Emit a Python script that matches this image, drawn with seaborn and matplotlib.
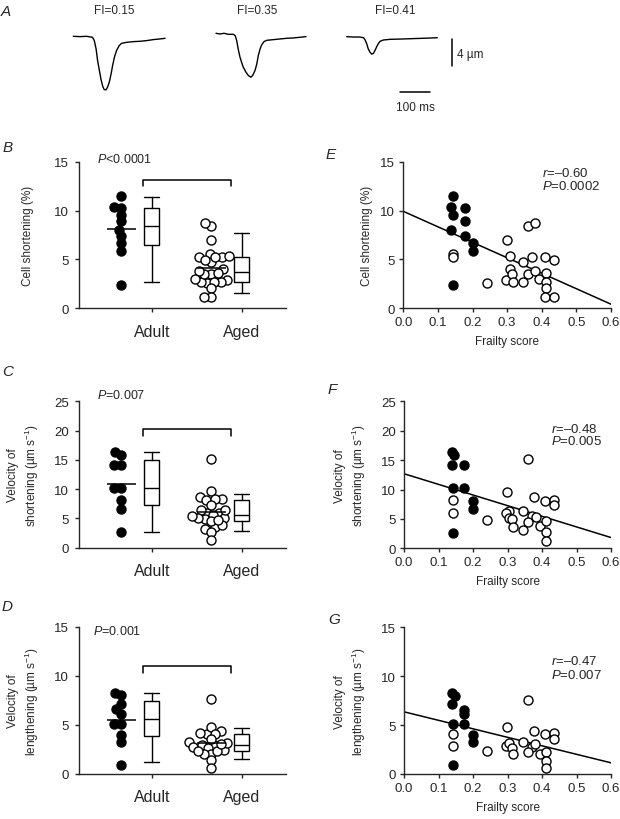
import numpy as np
import pandas as pd
import seaborn as sns
import matplotlib
matplotlib.use("Agg")
import matplotlib.pyplot as plt

### DATA ###

# A: example traces; time from trace start (ms), shortening (um)
t1 = [0, 22, 44, 64, 70, 76, 81, 87, 92, 98, 103, 109, 114, 120, 126, 131, 137, 144, 153, 161, 178, 200, 222, 244, 267, 289, 306]
d1 = [0, 0.05, 0, 0.15, 0.64, 1.88, 3.6, 5.08, 6.31, 7.4, 7.89, 7.94, 7.55, 6.8, 5.57, 4.34, 3.1, 2.12, 1.38, 1.04, 0.89, 0.79, 0.74, 0.64, 0.49, 0.39, 0.3]
t2 = [0, 13, 27, 41, 58, 64, 69, 74, 80, 86, 91, 100, 108, 116, 122, 130, 136, 141, 147, 152, 160, 169, 191, 213, 236, 258, 280, 300]
d2 = [0, 0.1, 0, 0.15, 0.15, 0.35, 1.08, 2.32, 3.55, 4.39, 5.03, 5.77, 6.26, 6.51, 6.26, 5.52, 4.54, 3.31, 2.32, 1.73, 1.23, 1.04, 0.94, 0.84, 0.74, 0.69, 0.59, 0.49]
t3 = [0, 22, 44, 56, 61, 67, 72, 78, 83, 89, 94, 100, 106, 111, 122, 144, 178, 211, 244, 278, 302]
d3 = [0, 0.05, 0.05, 0.15, 0.44, 1.08, 1.83, 2.32, 2.57, 2.47, 2.07, 1.48, 0.99, 0.69, 0.49, 0.39, 0.35, 0.3, 0.25, 0.2, 0.15]
fi_labels = ["FI=0.15", "FI=0.35", "FI=0.41"]

groups = ["Adult", "Aged"]

# B / E: cell shortening (%)
short_fi_adult = [0.145, 0.138, 0.178, 0.143, 0.178, 0.138, 0.178, 0.202, 0.202, 0.145]
short_adult = [11.52, 10.33, 10.27, 9.58, 8.9, 8.04, 7.43, 6.65, 5.9, 2.38]
short_fi_aged = [0.145, 0.145, 0.243, 0.299, 0.307, 0.307, 0.297, 0.314, 0.317, 0.347, 0.347, 0.361,
                 0.380, 0.371, 0.361, 0.380, 0.393, 0.410, 0.412, 0.412, 0.412, 0.410, 0.436, 0.436]
short_aged = [5.56, 5.22, 2.59, 7.02, 5.38, 4.02, 2.93, 3.51, 2.66, 4.71, 2.66, 8.39,
              8.73, 5.22, 3.51, 3.85, 3.0, 5.22, 3.61, 2.66, 2.05, 1.12, 4.98, 1.12]

# C / F: velocity of shortening (um/s)
vs_fi_adult = [0.138, 0.145, 0.138, 0.174, 0.141, 0.174, 0.199, 0.199, 0.141]
vs_adult = [16.3, 15.9, 14.2, 14.2, 10.2, 10.2, 8.1, 6.6, 2.6]
vs_fi_aged = [0.143, 0.143, 0.241, 0.298, 0.305, 0.296, 0.305, 0.312, 0.315, 0.346, 0.346, 0.360,
              0.378, 0.370, 0.360, 0.383, 0.394, 0.409, 0.412, 0.412, 0.412, 0.436, 0.436]
vs_aged = [8.27, 6.0, 4.87, 9.63, 6.4, 6.0, 5.1, 5.0, 3.57, 6.4, 3.17, 15.2,
           8.67, 5.55, 4.5, 5.4, 3.84, 8.1, 4.7, 2.72, 1.3, 8.27, 7.36]

# D / G: velocity of lengthening (um/s)
vl_fi_adult = [0.138, 0.148, 0.138, 0.174, 0.174, 0.141, 0.174, 0.199, 0.199, 0.141]
vl_adult = [8.28, 8.0, 7.16, 6.58, 6.13, 5.11, 5.11, 3.99, 3.24, 0.92]
vl_fi_aged = [0.143, 0.143, 0.241, 0.298, 0.296, 0.305, 0.312, 0.315, 0.346, 0.360, 0.378,
              0.370, 0.360, 0.380, 0.394, 0.409, 0.412, 0.412, 0.412, 0.436, 0.436]
vl_aged = [4.09, 2.9, 2.38, 4.77, 2.9, 3.17, 2.62, 2.04, 3.24, 7.6, 4.37,
           2.73, 2.28, 3.07, 2.04, 4.09, 2.28, 1.36, 0.58, 4.19, 3.58]

### STYLE ###
sns.set_style("ticks")
plt.rcParams["font.family"] = ["Liberation Sans", "DejaVu Sans"]
plt.rcParams["mathtext.fontset"] = "custom"
plt.rcParams["mathtext.rm"] = "Liberation Sans"
plt.rcParams["mathtext.it"] = "Liberation Sans:italic"
plt.rcParams["axes.linewidth"] = 1.0

DOT = 6.5          # marker diameter (pt)
SWARM_DOT = 3.6    # diameter used only for the swarm layout -> tighter, overlapping swarm

W, H = 620, 820
fig = plt.figure(figsize=(W / 100, H / 100), dpi=100)

def rect(left, top, right, bottom):
    return [left / W, 1 - bottom / H, (right - left) / W, (bottom - top) / H]

def ftxt(px, py, s, **kw):
    fig.text(px / W, 1 - py / H, s, **kw)

### A: traces ###
MS_PX = 100 / 30   # 100 ms bar is 30 px
UM_PX = 4 / 27     # 4 um bar is 27 px
axA = fig.add_axes([0, 1 - 120 / H, 1, 120 / H])
axA.set_xlim(0, W * MS_PX)
axA.set_ylim(-120 * UM_PX, 0)
axA.axis("off")
starts_px = [73.3, 216, 346.7]
base_px = [37.3, 34.3, 37.7]
for t, d, x0, b in zip([t1, t2, t3], [d1, d2, d3], starts_px, base_px):
    axA.plot(x0 * MS_PX + np.array(t), -b * UM_PX - np.array(d), color="black", lw=1.0)
for s, px in zip(fi_labels, [114, 257, 395]):
    ftxt(px, 11, s, fontsize=8.5, ha="center", va="center")
axA.plot([452 * MS_PX] * 2, [-40 * UM_PX, -40 * UM_PX - 4], color="black", lw=1.1)
axA.plot([400 * MS_PX, 400 * MS_PX + 100], [-93 * UM_PX] * 2, color="black", lw=1.1)
ftxt(457, 55, "4 µm", fontsize=8.5, ha="left", va="center")
ftxt(415, 108, "100 ms", fontsize=8.5, ha="center", va="center")

### B-D: group comparisons ###
SHIFT = 0.34
swarms = []

def gp_stats(v):
    q = np.percentile(v, [10, 25, 50, 75, 90], method="weibull")
    return dict(whislo=q[0], q1=q[1], med=q[2], q3=q[3], whishi=q[4], fliers=[])

def group_panel(ax, adult, aged, ymax, ylabel, ptxt, pxy, br_y, lab_x):
    df = pd.DataFrame({"value": adult + aged,
                       "group": [groups[0]] * len(adult) + [groups[1]] * len(aged)})
    df["pos"] = df["group"].map({groups[0]: -SHIFT, groups[1]: 1 - SHIFT})
    for g, face in zip(groups, ["black", "white"]):
        sub = df[df["group"] == g]
        n0 = len(ax.collections)
        sns.swarmplot(data=sub, x="pos", y="value", native_scale=True, orient="v",
                      color=face, edgecolor="black", linewidth=1, size=SWARM_DOT, ax=ax, zorder=3)
        swarms.extend(ax.collections[n0:])
        m = sub["value"].mean()
        p = sub["pos"].iloc[0]
        ax.hlines(m, p - 0.16, p + 0.16, color="black", lw=1.1, zorder=4)
    ax.bxp([gp_stats(adult), gp_stats(aged)], positions=[0, 1], widths=0.17, capwidths=0.17,
           patch_artist=True, showfliers=False, manage_ticks=False,
           boxprops=dict(facecolor="white", edgecolor="black", linewidth=1),
           whiskerprops=dict(color="black", linewidth=1),
           capprops=dict(color="black", linewidth=1),
           medianprops=dict(color="black", linewidth=1))
    ax.set_xlim(-0.808, 1.492)
    ax.set_ylim(0, ymax)
    ax.set_yticks(np.arange(0, ymax + 1, 5))
    ax.set_xticks([0, 1], groups)
    ax.set_xlabel("")
    ax.tick_params(axis="x", labelsize=11.5, length=3, width=1, pad=8)
    ax.tick_params(axis="y", labelsize=9.5, length=3, width=1, pad=4)
    ax.set_ylabel(ylabel, fontsize=8.5, va="center", linespacing=1.3)
    ax.yaxis.set_label_coords(lab_x, 0.5)
    ax.text(pxy[0], pxy[1], ptxt, fontsize=9, ha="left", va="center")
    x0, x1 = -0.1, 0.88
    ax.plot([x0, x0, x1, x1], [br_y[1], br_y[0], br_y[0], br_y[1]], color="black", lw=1.1)
    sns.despine(ax=ax)

### E-G: frailty correlations ###
def frailty_panel(ax, fa, va, fo, vo, ymax, ylabel, rtxt, ptxt, txy, lab_x):
    sns.scatterplot(x=fa, y=va, color="black", edgecolor="black", linewidth=1, s=DOT ** 2, ax=ax, zorder=3)
    sns.scatterplot(x=fo, y=vo, color="white", edgecolor="black", linewidth=1, s=DOT ** 2, ax=ax, zorder=3)
    ax.set_xlim(0, 0.6)
    sns.regplot(x=np.array(fa + fo), y=np.array(va + vo), scatter=False, ci=None, truncate=False,
                color="black", line_kws=dict(lw=1.1, zorder=2), ax=ax)
    ax.set_xlim(0, 0.6)
    ax.set_ylim(0, ymax)
    ticks = np.arange(0, 0.61, 0.1)
    ax.set_xticks(ticks, [f"{v:.1f}" for v in ticks])
    ax.set_yticks(np.arange(0, ymax + 1, 5))
    ax.tick_params(axis="x", labelsize=9.5, length=3, width=1, pad=2.5)
    ax.tick_params(axis="y", labelsize=9.5, length=3, width=1, pad=3)
    ax.set_xlabel("Frailty score", fontsize=8.5, labelpad=5)
    ax.set_ylabel(ylabel, fontsize=8.5, va="center", linespacing=1.3)
    ax.yaxis.set_label_coords(lab_x, 0.5)
    ax.text(txy[0], txy[1], rtxt, fontsize=9.5, ha="left", va="center")
    ax.text(txy[0], txy[2], ptxt, fontsize=9.5, ha="left", va="center")
    sns.despine(ax=ax)

lab_short = "Cell shortening (%)"
lab_vs = "Velocity of\nshortening (µm s$^{-1}$)"
lab_vl = "Velocity of\nlengthening (µm s$^{-1}$)"

axB = fig.add_axes(rect(79, 162.7, 286, 309.3))
group_panel(axB, short_adult, short_aged, 15, lab_short, "$P$<0.0001", (-0.61, 15.28), (13.16, 12.54), -0.248)
axC = fig.add_axes(rect(79, 402.3, 286, 548.7))
group_panel(axC, vs_adult, vs_aged, 25, lab_vs, "$P$=0.007", (-0.61, 26.2), (20.27, 19.1), -0.265)
axD = fig.add_axes(rect(79, 627.7, 286, 774.7))
group_panel(axD, vl_adult, vl_aged, 15, lab_vl, "$P$=0.001", (-0.65, 14.6), (10.96, 10.28), -0.265)

axE = fig.add_axes(rect(403.3, 162.7, 611, 309.3))
frailty_panel(axE, short_fi_adult, short_adult, short_fi_aged, short_aged, 15, lab_short,
              "$r$=–0.60", "$P$=0.0002", (0.40, 13.9, 12.55), -0.176)
axF = fig.add_axes(rect(404, 402.3, 611, 549.3))
frailty_panel(axF, vs_fi_adult, vs_adult, vs_fi_aged, vs_aged, 25, lab_vs,
              "$r$=–0.48", "$P$=0.005", (0.425, 20.3, 18.3), -0.257)
axG = fig.add_axes(rect(404, 628.3, 611, 775))
frailty_panel(axG, vl_fi_adult, vl_adult, vl_fi_aged, vl_aged, 15, lab_vl,
              "$r$=–0.47", "$P$=0.007", (0.425, 11.58, 10.2), -0.257)

# panel letters
for s, px, py in [("A", 6, 12), ("B", 8, 148), ("C", 8, 372), ("D", 7, 607),
                  ("E", 331, 155), ("F", 332, 390), ("G", 334, 620)]:
    ftxt(px, py, s, fontsize=11, style="italic", ha="center", va="center")

# lay the swarms out with small markers, freeze them, then draw the real-size dots
fig.canvas.draw()
for coll in swarms:
    offs = np.asarray(coll.get_offsets()).copy()
    if "draw" in coll.__dict__:
        del coll.draw
    coll.set_offsets(offs)
    coll.set_sizes([DOT ** 2])

fig.savefig("out.png", dpi=100)
